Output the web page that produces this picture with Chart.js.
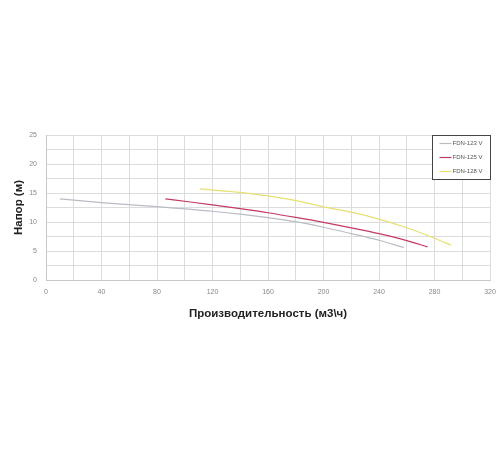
<!DOCTYPE html>
<html><head><meta charset="utf-8">
<script src="https://cdn.jsdelivr.net/npm/chart.js@4"></script>
<style>html,body{margin:0;padding:0;background:#fff;}#wrap{position:relative;width:500px;height:450px;}</style>
</head><body><div id="wrap"><canvas id="c" width="500" height="450"></canvas></div>
<script>
const seriesNames = ['FDN-123 V', 'FDN-125 V', 'FDN-128 V'];
const greyX = [10, 40, 80, 120, 140, 160, 180, 200, 220, 240, 258];
const greyY = [14.0, 13.35, 12.65, 11.85, 11.35, 10.75, 10.05, 9.1, 8.0, 6.85, 5.6];
const redX = [86, 104, 120, 140, 160, 180, 200, 220, 240, 260, 275];
const redY = [14.0, 13.45, 12.95, 12.3, 11.6, 10.8, 9.95, 9.0, 8.0, 6.8, 5.7];
const yellowX = [111, 140, 160, 180, 200, 220, 240, 260, 280, 292];
const yellowY = [15.7, 15.1, 14.5, 13.7, 12.6, 11.7, 10.5, 9.0, 7.2, 6.0];
const xLabelsEvery = 40;
const yLabelsEvery = 5;
const xTitle = 'Производительность (м3\\ч)';
const yTitle = 'Напор (м)';
const colors = ['#b9bcc4', '#c43a62', '#e6e070'];

function pts(xs, ys){ return xs.map((x,i)=>({x:x, y:ys[i]})); }

const legendBox = {
  id: 'legendBox',
  afterDraw(chart){
    const ctx = chart.ctx, a = chart.chartArea;
    const w = 58, h = 44, x0 = a.right - w + 0.5, y0 = a.top + 0.5;
    ctx.save();
    ctx.fillStyle = '#fff';
    ctx.fillRect(x0, y0, w, h);
    ctx.strokeStyle = '#444';
    ctx.lineWidth = 1;
    ctx.strokeRect(x0, y0, w, h);
    ctx.font = '6px "Liberation Sans", Arial, sans-serif';
    ctx.textBaseline = 'middle';
    ctx.fillStyle = '#555';
    chart.data.datasets.forEach((ds, i) => {
      const yy = y0 + 8 + i * 14;
      ctx.strokeStyle = ds.borderColor;
      ctx.lineWidth = 1.2;
      ctx.beginPath(); ctx.moveTo(x0 + 7, yy); ctx.lineTo(x0 + 19, yy); ctx.stroke();
      ctx.fillText(ds.label, x0 + 20, yy);
    });
    ctx.restore();
  }
};

new Chart(document.getElementById('c'), {
  type: 'line',
  data: {
    datasets: [
      {label: seriesNames[0], data: pts(greyX, greyY), borderColor: colors[0]},
      {label: seriesNames[1], data: pts(redX, redY), borderColor: colors[1]},
      {label: seriesNames[2], data: pts(yellowX, yellowY), borderColor: colors[2]}
    ].map(d => Object.assign(d, {borderWidth: 1.2, pointRadius: 0, fill: false, tension: 0.4, cubicInterpolationMode: 'monotone'}))
  },
  options: {
    responsive: false, animation: false,
    layout: {padding: {left: 0, top: 135, right: 0, bottom: 125}},
    plugins: {legend: {display: false}, tooltip: {enabled: false}},
    scales: {
      x: {
        type: 'linear', min: 0, max: 320,
        afterFit(s){ s.height = 45; s.paddingRight = 10; },
        ticks: {stepSize: 20, maxRotation: 0, autoSkip: false, padding: 8, color: '#888', font: {size: 7, family: 'Liberation Sans'},
          callback: v => (v % xLabelsEvery === 0 ? String(v) : '')},
        grid: {color: '#dcdcdc', lineWidth: 1, drawTicks: false},
        border: {color: '#c8c8c8'},
        title: {display: true, text: xTitle, color: '#222', font: {size: 11.5, weight: 'bold', family: 'Liberation Sans'}, padding: {top: 6}}
      },
      y: {
        min: 0, max: 25,
        afterFit(s){ s.width = 46; },
        ticks: {stepSize: 2.5, autoSkip: false, padding: 9, color: '#888', font: {size: 7, family: 'Liberation Sans'},
          callback: v => (v % yLabelsEvery === 0 ? String(v) : '')},
        grid: {color: '#dcdcdc', lineWidth: 1, drawTicks: false},
        border: {color: '#c8c8c8'},
        title: {display: true, text: yTitle, color: '#222', font: {size: 11.5, weight: 'bold', family: 'Liberation Sans'}, padding: {top: 12, bottom: 0}}
      }
    }
  },
  plugins: [legendBox]
});
</script></body></html>
